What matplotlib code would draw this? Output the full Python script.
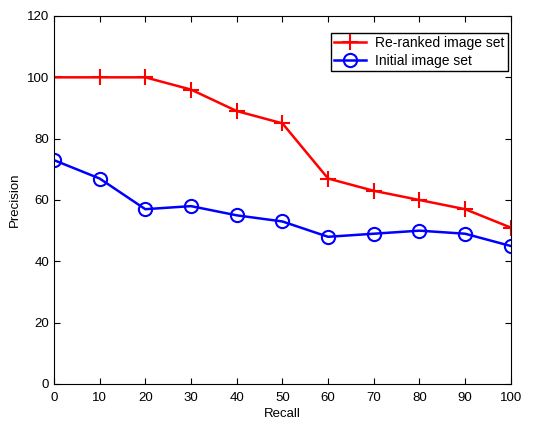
import matplotlib
matplotlib.use("Agg")
from matplotlib import pyplot as plt

recall = [0, 10, 20, 30, 40, 50, 60, 70, 80, 90, 100]
reranked = [100, 100, 100, 96, 89, 85, 67, 63, 60, 57, 51]
initial = [73, 67, 57, 58, 55, 53, 48, 49, 50, 49, 45]

plt.rcParams['font.family'] = ['Liberation Sans', 'DejaVu Sans']
plt.rcParams['font.size'] = 9.5

fig = plt.figure(figsize=(5.36, 4.21), dpi=100)
ax = fig.add_axes([0.1007, 0.0879, 0.8523, 0.8741])
ax.plot(recall, reranked, color="red", marker="+", markersize=12, markeredgewidth=1.5,
        linewidth=1.8, label="Re-ranked image set")
ax.plot(recall, initial, color="blue", marker="o", markersize=9.5, markerfacecolor="none",
        markeredgewidth=1.5, linewidth=1.8, label="Initial image set")
ax.set_xlim(0, 100)
ax.set_ylim(0, 120)
ax.set_xticks(range(0, 101, 10))
ax.set_yticks(range(0, 121, 20))
ax.tick_params(direction="in", length=4, top=True, right=True)
ax.tick_params(axis="x", pad=6)
ax.set_xlabel("Recall", labelpad=3)
ax.set_ylabel("Precision", labelpad=4)
leg = ax.legend(loc="upper right", bbox_to_anchor=(0.993, 0.955), fancybox=False,
                edgecolor="black", framealpha=1, borderpad=0.25, handlelength=2.3,
                handletextpad=0.6, labelspacing=0.25, fontsize=10, borderaxespad=0)
leg.get_frame().set_linewidth(1.0)
fig.savefig("out.png", dpi=100)
